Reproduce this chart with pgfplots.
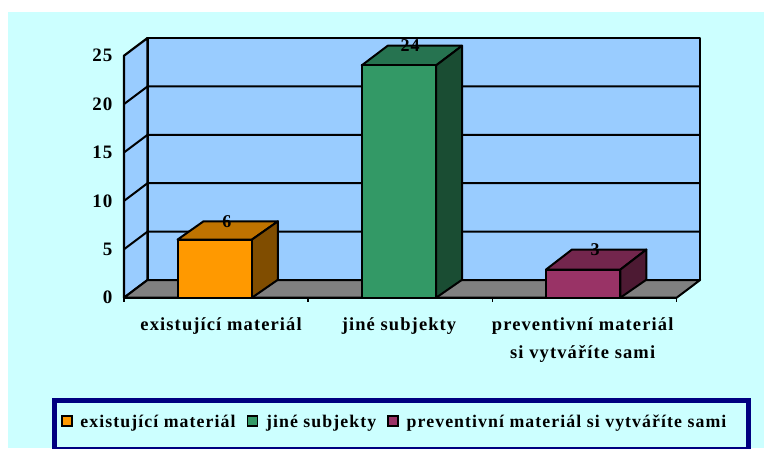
\documentclass[border=0pt]{standalone}
\usepackage{fontspec}
\setmainfont{Liberation Serif}[LetterSpace=6]
\usepackage{pgfplots}
\pgfplotsset{compat=1.18}

\definecolor{pale}{HTML}{CCFFFF}
\definecolor{wall}{HTML}{99CCFF}
\definecolor{floorc}{HTML}{808080}
\definecolor{navyc}{HTML}{000080}
\definecolor{ora}{HTML}{FF9900}
\definecolor{oratop}{HTML}{BF7300}
\definecolor{oraside}{HTML}{804D00}
\definecolor{gre}{HTML}{339966}
\definecolor{gretop}{HTML}{267350}
\definecolor{greside}{HTML}{1A4D33}
\definecolor{pur}{HTML}{993366}
\definecolor{purtop}{HTML}{73264D}
\definecolor{purside}{HTML}{4D1A33}

\pgfplotsset{
  face/.style={draw=black, line width=2pt, line join=round, forget plot},
  gridl/.style={draw=black, line width=2pt, forget plot},
  swatch/.style={bar shift=0pt, bar width=74.3pt, draw=black, line width=2pt, fill=#1,
    legend image code/.code={\draw[fill=#1, draw=black, line width=1.6pt, transform canvas={yshift=4pt}] (0pt,-5pt) rectangle (10pt,5pt);}},
}

\begin{document}
\begin{tikzpicture}[x=1pt,y=1pt]
\path[use as bounding box] (0,0) rectangle (764,448);
\fill[pale] (8,0) rectangle (764,436);
\begin{axis}[
  at={(124pt,150.3pt)}, anchor=south west,
  scale only axis,
  x=184.2pt, y=9.68pt,
  xmin=0, xmax=3.1276, ymin=0, ymax=26.825,
  clip=false,
  axis line style={draw=none},
  xtick pos=bottom, ytick pos=left,
  tick align=outside,
  major tick length=0pt, minor tick length=4pt,
  xtick={0.527,1.493,2.49},
  minor xtick={0,1,2,3},
  minor tick style={black, line width=1.6pt},
  xticklabels={existující materiál, jiné subjekty, {preventivní materiál\\si vytváříte sami}},
  xticklabel style={align=center, font=\fontsize{18.5}{28}\selectfont\bfseries, yshift=-16.5pt},
  ytick={0,5,10,15,20,25},
  yticklabel style={font=\fontsize{19}{20}\selectfont\bfseries, xshift=-8pt},
  /pgf/number format/assume math mode=true,
  legend columns=3,
  legend cell align=left,
  legend style={
    at={(-0.1203,-0.397)}, anchor=north west,
    draw=navyc, line width=5pt, fill=pale, outer sep=0pt,
    inner xsep=7.3pt, inner ysep=0pt,
    nodes={inner sep=0pt, text height=26.5pt, text depth=22pt},
    font=\fontsize{17.8}{20}\selectfont\bfseries,
    /tikz/every even column/.append style={column sep=12pt},
    /tikz/every odd column/.append style={column sep=8.5pt},
  },
]
% walls and floor
\addplot[face, fill=wall, line width=2.2pt] coordinates {(0.1276,1.825)(3.1276,1.825)(3.1276,26.825)(0.1276,26.825)} -- cycle;
\addplot[face, fill=wall, line width=2.2pt] coordinates {(0,0)(0.1276,1.825)(0.1276,26.825)(0,25)} -- cycle;
\addplot[face, fill=floorc] coordinates {(0,0)(3,0)(3.1276,1.825)(0.1276,1.825)} -- cycle;
% gridlines
\addplot[gridl] coordinates {(0,5)(0.1276,6.825)(3.1276,6.825)};
\addplot[gridl] coordinates {(0,10)(0.1276,11.825)(3.1276,11.825)};
\addplot[gridl] coordinates {(0,15)(0.1276,16.825)(3.1276,16.825)};
\addplot[gridl] coordinates {(0,20)(0.1276,21.825)(3.1276,21.825)};
% existujici material
\addplot[face, fill=oratop] coordinates {(0.2905,6)(0.6945,6)(0.8357,7.89)(0.4317,7.89)} -- cycle;
\addplot[face, fill=oraside] coordinates {(0.6945,0)(0.8357,1.86)(0.8357,7.89)(0.6945,6)} -- cycle;
\addplot[ybar, swatch=ora] coordinates {(0.4925,6)};
% jine subjekty
\addplot[face, fill=gretop] coordinates {(1.2905,24)(1.6945,24)(1.8357,26.03)(1.4317,26.03)} -- cycle;
\addplot[face, fill=greside] coordinates {(1.6945,0)(1.8357,1.86)(1.8357,26.03)(1.6945,24)} -- cycle;
\addplot[ybar, swatch=gre] coordinates {(1.4925,24)};
% preventivni material
\addplot[face, fill=purtop] coordinates {(2.2905,2.9)(2.6945,2.9)(2.8357,4.97)(2.4317,4.97)} -- cycle;
\addplot[face, fill=purside] coordinates {(2.6945,0)(2.8357,1.86)(2.8357,4.97)(2.6945,2.9)} -- cycle;
\addplot[ybar, swatch=pur] coordinates {(2.4925,2.9)};
% data labels, placed above the bar tops
\addplot[draw=none, forget plot, point meta=explicit,
  nodes near coords,
  every node near coord/.append style={anchor=center, inner sep=0pt, text height=, text depth=, font=\fontsize{18}{20}\selectfont\bfseries}]
  coordinates {(0.559,7.9)[6] (1.553,26.1)[24] (2.557,4.93)[3]};
% front axis lines
\addplot[gridl] coordinates {(0,25)(0,0)(3,0)};
\legend{existující materiál, jiné subjekty, preventivní materiál si vytváříte sami\hspace*{14.7pt}}
\end{axis}
\end{tikzpicture}
\end{document}
